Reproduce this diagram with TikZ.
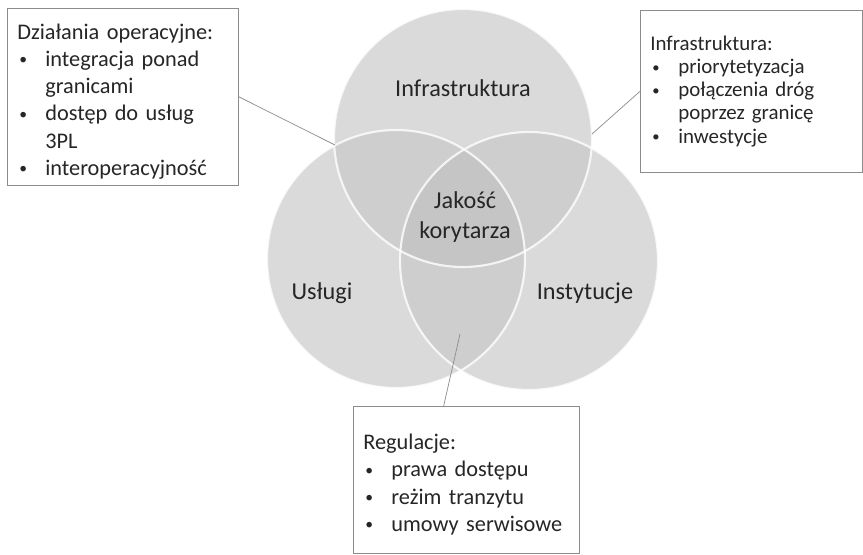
\documentclass[tikz,border=0pt]{standalone}
\usepackage{fontspec}
\usepackage{graphicx}
\setmainfont{Carlito}
\usetikzlibrary{positioning, calc}
\definecolor{vennbase}{RGB}{218, 218, 218}
\definecolor{venntwo}{RGB}{206, 206, 206}
\definecolor{vennthree}{RGB}{197, 197, 197}
\definecolor{linegray}{RGB}{140, 140, 140}
\newcommand{\bul}{\makebox[0.56cm][l]{\hspace*{0.04cm}\raisebox{0.15ex}{\scalebox{0.7}{\textbullet}}}}
\newcommand{\ind}{\hspace*{0.56cm}}

\begin{document}
\begin{tikzpicture}[x=0.02cm, y=-0.02cm,
    venn/.style={circle, fill=vennbase, minimum size=5.16cm, inner sep=0pt},
    rim/.style={draw=white, draw opacity=0.8, line width=1.2pt},
    lbl/.style={font=\fontsize{13.8}{17}\selectfont, text=black!85, align=center},
    infobox/.style={draw=linegray, fill=white, anchor=north west, align=left, inner xsep=0.2cm, text=black!85},
    conn/.style={linegray, thin}
  ]
    \fill[white] (0,0) rectangle (863,555);
    \useasboundingbox (0,0) rectangle (863,555);
    % three circles
    \node[venn] (top) at (463,138) {};
    \node[venn] (lft) at (396,259) {};
    \node[venn] (rgt) at (529,261) {};
    % overlaps
    \begin{scope}
      \clip (top.center) circle[radius=2.58cm];
      \fill[venntwo] (lft.center) circle[radius=2.58cm];
      \fill[venntwo] (rgt.center) circle[radius=2.58cm];
    \end{scope}
    \begin{scope}
      \clip (lft.center) circle[radius=2.58cm];
      \fill[venntwo] (rgt.center) circle[radius=2.58cm];
    \end{scope}
    \begin{scope}
      \clip (top.center) circle[radius=2.58cm];
      \clip (lft.center) circle[radius=2.58cm];
      \fill[vennthree] (rgt.center) circle[radius=2.58cm];
    \end{scope}
    \draw[rim] (top.center) circle[radius=2.58cm];
    \draw[rim] (lft.center) circle[radius=2.58cm];
    \draw[rim] (rgt.center) circle[radius=2.58cm];
    % labels
    \node[lbl] (infl) at (463,88) {Infrastruktura};
    \node[lbl] (core) at (465,217) {Jakość\\korytarza};
    \node[lbl] (usl) at (322,293) {Usługi};
    \node[lbl] (inst) at (585,293) {Instytucje};
    % boxes
    \node[infobox, text width=4.22cm, minimum height=3.28cm,
      font=\fontsize{12.7}{15.5}\selectfont] (ops) at (7,8) {\rule{0pt}{0.5cm}Działania operacyjne:\\
      \bul integracja ponad\\
      \ind granicami\\
      \bul dostęp do usług\\
      \ind 3PL\\
      \bul interoperacyjność};
    \node[infobox, text width=4.04cm, minimum height=3.24cm,
      font=\fontsize{11.9}{13.2}\selectfont] (inf) at (640,10) {Infrastruktura:\\
      \bul priorytetyzacja\\
      \bul połączenia dróg\\
      \ind poprzez granicę\\
      \bul inwestycje};
    \node[infobox, text width=4.12cm, minimum height=2.94cm,
      font=\fontsize{12.7}{15.5}\selectfont] (reg) at (353,406) {\rule{0pt}{0.5cm}Regulacje:\\
      \bul prawa dostępu\\
      \bul reżim tranzytu\\
      \bul umowy serwisowe};
    % connectors
    \coordinate (pOps) at (335,145);
    \coordinate (pInf) at (592,134);
    \coordinate (pReg) at (460,334);
    \draw[conn] (ops.east) -- (pOps);
    \draw[conn] (inf.west) -- (pInf);
    \draw[conn] ($(reg.north west)!0.4!(reg.north east)$) -- (pReg);
  \end{tikzpicture}
\end{document}
